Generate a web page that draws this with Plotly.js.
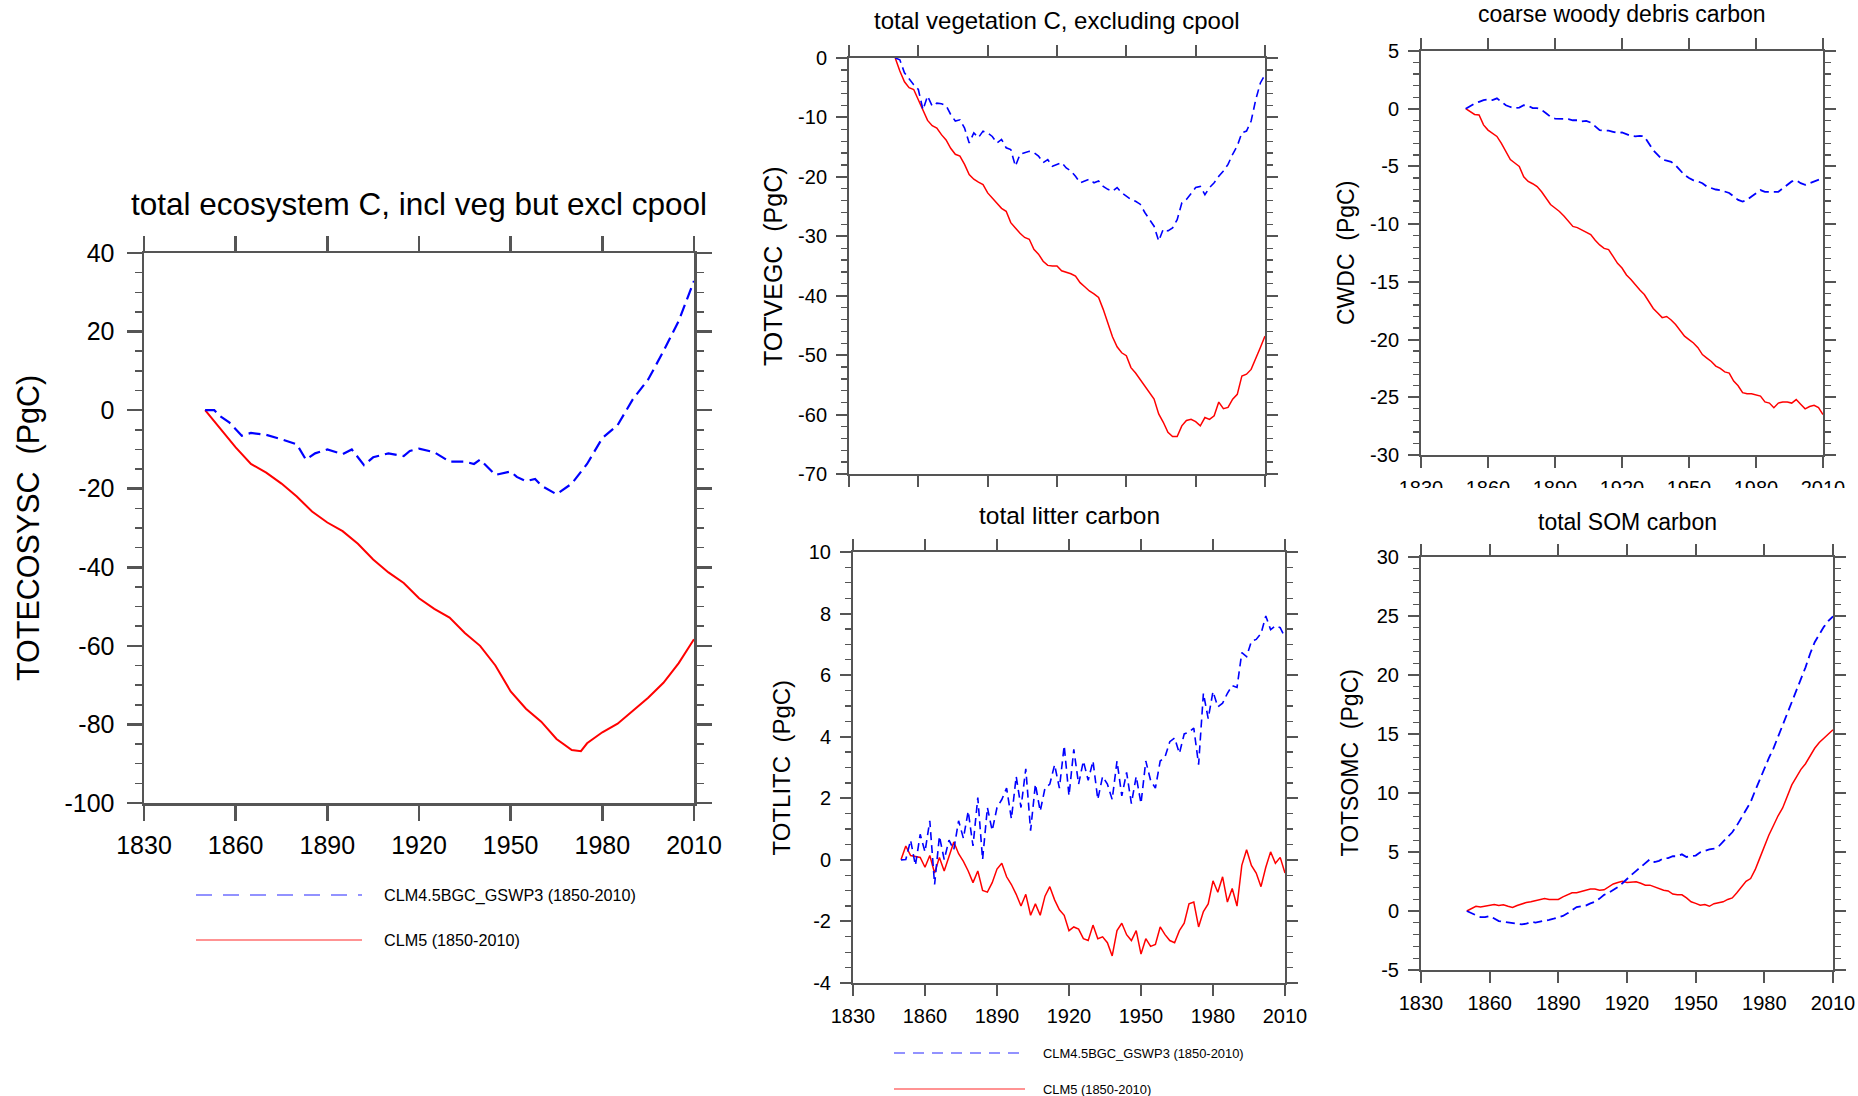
<!DOCTYPE html>
<html>
<head>
<meta charset="utf-8">
<script src="https://cdn.plot.ly/plotly-3.0.1.min.js"></script>
<style>
html,body{margin:0;padding:0;background:#ffffff;}
#chart{width:1858px;height:1096px;}
</style>
</head>
<body>
<div id="chart"></div>
<script>
// ---------------- DATA ----------------
const seriesNames = ['CLM4.5BGC_GSWP3 (1850-2010)', 'CLM5 (1850-2010)'];
const xTickVals = [1830, 1860, 1890, 1920, 1950, 1980, 2010];
const xTickText = ['1830', '1860', '1890', '1920', '1950', '1980', '2010'];

// Panel 1: total ecosystem C
const ecoRedYears = [1850,1855,1860,1865,1870,1875,1880,1885,1890,1895,1900,1905,1910,1915,1920,1925,1930,1935,1940,1945,1950,1955,1960,1965,1970,1973,1975,1980,1985,1990,1995,2000,2005,2010];
const ecoRed = [0,-4.9,-9.5,-13.7,-15.9,-18.7,-22,-25.8,-28.6,-30.8,-34,-38,-41.3,-44,-47.9,-50.6,-52.8,-56.7,-60,-65,-71.6,-76,-79.3,-83.7,-86.5,-86.8,-84.8,-82,-79.8,-76.5,-73.2,-69.4,-64.4,-58.3];
const ecoBlueYears = [1850,1853,1855,1858,1862,1865,1870,1875,1880,1883,1886,1890,1895,1898,1902,1905,1910,1915,1917,1920,1925,1930,1935,1938,1940,1945,1950,1952,1955,1958,1960,1965,1970,1975,1980,1985,1990,1995,2000,2005,2010];
const ecoBlue = [0,0,-1.6,-3.2,-6.5,-5.8,-6.3,-7.4,-8.7,-12.6,-11,-10,-11.2,-10,-14,-12,-11,-11.7,-10.4,-9.8,-10.7,-13.1,-13.1,-13.7,-12.6,-16.5,-15.6,-17,-18.1,-17.5,-19.2,-21.4,-18.7,-13.7,-7.1,-3.8,2.8,7.8,15,22.7,32.9];
const ecoYTicks = [-100,-80,-60,-40,-20,0,20,40];
const ecoYText = ['-100','-80','-60','-40','-20','0','20','40'];

// Common years for panels 2-5 (every second year)
const years = [1850,1852,1854,1856,1858,1860,1862,1864,1866,1868,1870,1872,1874,1876,1878,1880,1882,1884,1886,1888,1890,1892,1894,1896,1898,1900,1902,1904,1906,1908,1910,1912,1914,1916,1918,1920,1922,1924,1926,1928,1930,1932,1934,1936,1938,1940,1942,1944,1946,1948,1950,1952,1954,1956,1958,1960,1962,1964,1966,1968,1970,1972,1974,1976,1978,1980,1982,1984,1986,1988,1990,1992,1994,1996,1998,2000,2002,2004,2006,2008,2010];

// Panel 2: total vegetation C
const vegRed = [0,-2.2,-4.0,-5.0,-5.3,-7.0,-8.7,-10.5,-11.4,-11.8,-12.9,-13.8,-15.2,-16.2,-16.5,-17.9,-19.6,-20.4,-20.9,-21.3,-22.7,-23.6,-24.5,-25.3,-25.8,-27.7,-28.6,-29.5,-30.2,-30.5,-32.2,-33.0,-34.2,-34.9,-35.0,-35.0,-35.8,-36.0,-36.3,-36.7,-37.8,-38.5,-39.2,-39.7,-40.3,-42.3,-44.5,-46.9,-48.6,-49.6,-50.1,-52.1,-53.0,-54.1,-55.4,-56.3,-57.4,-59.9,-61.3,-63.0,-63.7,-63.7,-61.9,-61.0,-60.8,-61.2,-61.9,-60.5,-60.8,-60.2,-57.9,-59.0,-58.8,-57.4,-56.6,-53.5,-53.2,-52.4,-50.7,-48.7,-46.8];
const vegBlue = [0,-0.3,-2.5,-3.6,-4.5,-5.3,-8.7,-6.4,-8.1,-7.6,-7.7,-8.0,-9.5,-10.6,-10.4,-11.8,-14.3,-12.6,-13.4,-12.3,-12.6,-13.2,-14.3,-13.7,-15.1,-15.4,-18.2,-16.2,-15.9,-15.7,-15.9,-16.5,-17.6,-17.1,-18.2,-17.9,-17.6,-18.5,-19.0,-19.9,-21.0,-20.7,-20.4,-21.0,-20.7,-21.6,-22.1,-22.4,-21.8,-22.7,-23.2,-23.8,-24.1,-24.6,-26.0,-27.2,-28.3,-30.8,-28.8,-29.1,-28.6,-27.2,-24.4,-23.8,-22.7,-21.8,-21.6,-23.0,-21.8,-21.0,-19.9,-19.0,-17.9,-16.2,-14.8,-12.6,-12.3,-10.6,-7.0,-4.2,-2.8];
const vegYTicks = [-70,-60,-50,-40,-30,-20,-10,0];
const vegYText = ['-70','-60','-50','-40','-30','-20','-10','0'];

// Panel 3: coarse woody debris carbon
const cwdRed = [0,-0.26,-0.5,-0.55,-1.4,-1.85,-2.1,-2.4,-3.0,-3.7,-4.4,-4.7,-5.0,-5.9,-6.3,-6.5,-6.75,-7.2,-7.8,-8.3,-8.6,-8.9,-9.3,-9.8,-10.2,-10.3,-10.5,-10.65,-10.9,-11.4,-11.8,-12.1,-12.2,-12.8,-13.4,-13.8,-14.4,-14.8,-15.3,-15.7,-16.1,-16.7,-17.3,-17.7,-18.1,-18.0,-18.3,-18.7,-19.2,-19.7,-20.0,-20.3,-20.7,-21.3,-21.6,-21.9,-22.3,-22.5,-22.8,-22.9,-23.6,-24.0,-24.6,-24.7,-24.7,-24.8,-24.9,-25.4,-25.5,-25.9,-25.5,-25.4,-25.4,-25.5,-25.2,-25.6,-26.0,-25.8,-25.7,-25.9,-26.5];
const cwdBlue = [0,0.25,0.45,0.6,0.75,0.8,0.75,0.9,0.6,0.3,0.15,0.05,0.1,0.3,0.25,0.05,0.05,-0.1,-0.4,-0.7,-0.85,-0.85,-0.85,-0.9,-1.0,-1.0,-1.1,-1.05,-1.2,-1.55,-1.85,-1.9,-1.9,-2.0,-2.1,-2.05,-2.2,-2.35,-2.4,-2.35,-2.4,-3.0,-3.6,-4.0,-4.4,-4.5,-4.6,-4.9,-5.3,-5.75,-6.0,-6.2,-6.3,-6.45,-6.75,-6.9,-7.0,-7.05,-7.2,-7.3,-7.6,-7.9,-8.05,-7.9,-7.6,-7.3,-7.05,-7.2,-7.2,-7.2,-7.2,-6.9,-6.6,-6.3,-6.2,-6.45,-6.6,-6.45,-6.3,-6.2,-6.0];
const cwdYTicks = [-30,-25,-20,-15,-10,-5,0,5];
const cwdYText = ['-30','-25','-20','-15','-10','-5','0','5'];

// Panel 4: total litter carbon
const litRed = [0,0.45,0.14,0.1,0.08,-0.24,0.14,-0.43,0.08,-0.36,0.08,0.58,0.2,-0.05,-0.36,-0.74,-0.36,-0.99,-1.05,-0.74,-0.3,-0.11,-0.55,-0.8,-1.12,-1.5,-1.12,-1.8,-1.43,-1.8,-1.18,-0.87,-1.3,-1.62,-1.8,-2.3,-2.18,-2.25,-2.56,-2.62,-2.12,-2.56,-2.5,-2.69,-3.12,-2.3,-2.06,-2.43,-2.62,-2.3,-3.06,-2.56,-2.81,-2.75,-2.18,-2.43,-2.62,-2.69,-2.3,-2.06,-1.43,-1.37,-2.18,-1.68,-1.43,-0.68,-1.05,-0.55,-1.37,-0.93,-1.5,-0.18,0.33,-0.18,-0.43,-0.87,-0.24,0.26,-0.11,0.08,-0.43];
const litBlue = [0,0.01,0.64,-0.18,0.83,0.26,1.27,-0.8,0.77,0.01,0.64,0.33,1.27,0.7,1.58,0.45,2.02,0.01,1.7,0.95,1.7,1.96,2.33,1.33,2.71,1.7,2.96,0.95,2.46,1.58,2.33,2.46,3.09,2.33,3.71,2.08,3.59,2.46,3.21,2.58,3.21,1.96,2.71,2.46,1.96,3.21,2.08,2.84,1.83,2.71,1.83,3.21,2.58,2.33,3.21,3.34,3.84,3.96,3.46,4.09,4.15,4.28,3.09,5.41,4.59,5.47,4.97,5.09,5.41,5.66,5.6,6.73,6.6,7.1,7.16,7.35,7.92,7.48,7.6,7.54,7.23];
const litYTicks = [-4,-2,0,2,4,6,8,10];
const litYText = ['-4','-2','0','2','4','6','8','10'];

// Panel 5: total SOM carbon
const somRed = [0,0.23,0.4,0.33,0.4,0.46,0.55,0.46,0.52,0.4,0.3,0.46,0.62,0.72,0.78,0.85,0.95,1.05,0.98,0.95,0.98,1.2,1.37,1.54,1.54,1.63,1.76,1.86,1.86,1.76,1.8,2.03,2.29,2.42,2.52,2.42,2.42,2.48,2.35,2.19,2.19,2.03,1.86,1.76,1.7,1.44,1.37,1.37,1.11,0.78,0.65,0.49,0.55,0.4,0.62,0.72,0.78,0.98,1.11,1.54,2.03,2.52,2.75,3.5,4.48,5.46,6.44,7.25,8.07,8.73,9.71,10.69,11.34,12.0,12.48,13.14,13.79,14.28,14.61,15.0,15.36];
const somBlue = [0,-0.2,-0.36,-0.52,-0.52,-0.42,-0.65,-0.85,-0.92,-0.98,-1.08,-1.14,-1.14,-1.08,-0.92,-0.98,-0.92,-0.85,-0.75,-0.65,-0.52,-0.42,-0.2,0.07,0.33,0.4,0.46,0.65,0.78,1.05,1.37,1.54,1.76,2.03,2.35,2.75,3.07,3.4,3.73,4.05,4.38,4.15,4.25,4.48,4.48,4.64,4.64,4.8,4.58,4.64,4.7,4.97,5.13,5.23,5.29,5.46,5.88,6.27,6.67,7.25,7.9,8.56,9.22,10.2,11.18,12.16,12.97,13.79,14.77,15.75,16.73,17.55,18.69,19.67,20.65,21.8,22.78,23.43,24.08,24.58,24.97];
const somYTicks = [-5,0,5,10,15,20,25,30];
const somYText = ['-5','0','5','10','15','20','25','30'];

// ---------------- LAYOUT HELPERS ----------------
const W = 1858, H = 1096;
const FONT = '"Liberation Sans", Arial, Helvetica, sans-serif';
const AX = '#555555';
const BLUE = '#0000ff', RED = '#ff0000';
function px(x){ return x / W; }
function py(y){ return 1 - y / H; }

function xAxis(l, r, anchor, o){
  return {
    domain:[px(l), px(r)], anchor:anchor, range:[1830, 2010],
    tickmode:'array', tickvals:xTickVals, ticktext:xTickText,
    showticklabels:o.labels, ticks:'outside', ticklen:o.tl, tickwidth:o.tw, tickcolor:AX,
    showline:true, linecolor:AX, linewidth:o.lw, mirror:'allticks',
    showgrid:false, zeroline:false, fixedrange:true,
    tickfont:{family:FONT, size:o.fs, color:'#000'}, ticklabelstandoff:o.so
  };
}
function yAxis(t, b, anchor, vals, text, minorStep, o){
  return {
    domain:[py(b), py(t)], anchor:anchor, range:[vals[0], vals[vals.length-1]],
    tickmode:'array', tickvals:vals, ticktext:text,
    ticks:'outside', ticklen:o.tl, tickwidth:o.tw, tickcolor:AX,
    minor:{tick0:vals[0], dtick:minorStep, ticks:'outside', ticklen:o.mtl, tickwidth:o.mtw, tickcolor:AX, showgrid:false},
    showline:true, linecolor:AX, linewidth:o.lw, mirror:'allticks',
    showgrid:false, zeroline:false, fixedrange:true,
    tickfont:{family:FONT, size:o.fs, color:'#000'}, ticklabelstandoff:o.so
  };
}

const big = {tl:15, tw:2.5, lw:2.5, mtl:7, mtw:1.5, fs:25};
const sm  = {tl:11, tw:2, lw:2, mtl:6, mtw:1.3, fs:20};

// Panel frames (pixels)
const P1 = {l:144, r:694, t:253, b:803};
const P2 = {l:849, r:1265, t:58, b:474};
const P3 = {l:1421, r:1823, t:51, b:455};
const P4 = {l:853, r:1285, t:552, b:983};
const P5 = {l:1421, r:1833, t:557, b:970};

function lineTrace(x, y, xa, ya, color, width, dash, name){
  return {x:x, y:y, xaxis:xa, yaxis:ya, type:'scatter', mode:'lines', name:name,
          line:{color:color, width:width, dash:dash}, hoverinfo:'skip', showlegend:false};
}

const traces = [
  lineTrace(ecoRedYears, ecoRed, 'x', 'y', RED, 2, 'solid', seriesNames[1]),
  lineTrace(ecoBlueYears, ecoBlue, 'x', 'y', BLUE, 2.2, '12px,6px', seriesNames[0]),
  lineTrace(years, vegRed, 'x2', 'y2', RED, 1.5, 'solid', seriesNames[1]),
  lineTrace(years, vegBlue, 'x2', 'y2', BLUE, 1.6, '8px,5px', seriesNames[0]),
  lineTrace(years, cwdRed, 'x3', 'y3', RED, 1.5, 'solid', seriesNames[1]),
  lineTrace(years, cwdBlue, 'x3', 'y3', BLUE, 1.8, '9px,5px', seriesNames[0]),
  lineTrace(years, litRed, 'x4', 'y4', RED, 1.5, 'solid', seriesNames[1]),
  lineTrace(years, litBlue, 'x4', 'y4', BLUE, 1.6, '8px,5px', seriesNames[0]),
  lineTrace(years, somRed, 'x5', 'y5', RED, 1.5, 'solid', seriesNames[1]),
  lineTrace(years, somBlue, 'x5', 'y5', BLUE, 1.8, '9px,5px', seriesNames[0])
];

function ann(text, x, y, size, o){
  o = o || {};
  return {text:text, xref:'paper', yref:'paper', x:px(x), y:py(y), showarrow:false,
          xanchor:o.xa || 'center', yanchor:'middle', textangle:o.angle || 0,
          font:{family:FONT, size:size, color:'#000'}};
}
const NB = '\u00a0';
const annotations = [
  ann('total ecosystem C, incl veg but excl cpool', (P1.l+P1.r)/2, 204, 31.5),
  ann('total vegetation C, excluding cpool', (P2.l+P2.r)/2, 20, 24),
  ann('coarse woody debris carbon', (P3.l+P3.r)/2, 14, 23),
  ann('total litter carbon', (P4.l+P4.r)/2, 515, 24.5),
  ann('total SOM carbon', (P5.l+P5.r)/2, 522, 23),
  ann('TOTECOSYSC '+NB+'(PgC)', 28, (P1.t+P1.b)/2, 30.5, {angle:-90}),
  ann('TOTVEGC '+NB+'(PgC)', 773, (P2.t+P2.b)/2, 25, {angle:-90}),
  ann('CWDC '+NB+'(PgC)', 1346, (P3.t+P3.b)/2, 23, {angle:-90}),
  ann('TOTLITC '+NB+'(PgC)', 781, (P4.t+P4.b)/2, 24, {angle:-90}),
  ann('TOTSOMC '+NB+'(PgC)', 1349, (P5.t+P5.b)/2, 23, {angle:-90}),
  ann(seriesNames[0], 382, 895, 16.2, {xa:'left'}),
  ann(seriesNames[1], 382, 940, 16.2, {xa:'left'}),
  ann(seriesNames[0], 1041, 1053, 12.9, {xa:'left'}),
  ann(seriesNames[1], 1041, 1089, 12.9, {xa:'left'})
];

function legLine(x0, x1, y, color, dash){
  return {type:'line', xref:'paper', yref:'paper', x0:px(x0), x1:px(x1), y0:py(y), y1:py(y),
          line:{color:color, width:1.5, dash:dash}};
}
const shapes = [
  legLine(196, 362, 895, '#6f6fff', '16px,11px'),
  legLine(196, 362, 940, '#ff6f6f', 'solid'),
  legLine(894, 1025, 1053, '#6f6fff', '11px,8px'),
  legLine(894, 1025, 1089, '#ff6f6f', 'solid'),
  // the lower half of the CWDC year labels is hidden in the reference
  {type:'rect', xref:'paper', yref:'paper', x0:px(1360), x1:1, y0:py(506), y1:py(488),
   fillcolor:'#ffffff', line:{width:0}, layer:'above'}
];

const layout = {
  width:W, height:H, margin:{l:0, r:0, t:0, b:0},
  paper_bgcolor:'#ffffff', plot_bgcolor:'rgba(0,0,0,0)', showlegend:false,
  font:{family:FONT, color:'#000'},
  xaxis:  xAxis(P1.l, P1.r, 'y',  Object.assign({labels:true, so:3}, big)),
  yaxis:  yAxis(P1.t, P1.b, 'x',  ecoYTicks, ecoYText, 5, Object.assign({so:7}, big)),
  xaxis2: xAxis(P2.l, P2.r, 'y2', Object.assign({labels:false, so:3}, sm)),
  yaxis2: yAxis(P2.t, P2.b, 'x2', vegYTicks, vegYText, 2, Object.assign({so:5}, sm)),
  xaxis3: xAxis(P3.l, P3.r, 'y3', Object.assign({labels:true, so:3}, sm)),
  yaxis3: yAxis(P3.t, P3.b, 'x3', cwdYTicks, cwdYText, 1, Object.assign({so:5}, sm)),
  xaxis4: xAxis(P4.l, P4.r, 'y4', Object.assign({labels:true, so:3}, sm)),
  yaxis4: yAxis(P4.t, P4.b, 'x4', litYTicks, litYText, 0.5, Object.assign({so:5}, sm)),
  xaxis5: xAxis(P5.l, P5.r, 'y5', Object.assign({labels:true, so:3}, sm)),
  yaxis5: yAxis(P5.t, P5.b, 'x5', somYTicks, somYText, 1, Object.assign({so:5}, sm)),
  annotations:annotations,
  shapes:shapes
};

Plotly.newPlot('chart', traces, layout, {staticPlot:true, displayModeBar:false});
</script>
</body>
</html>
